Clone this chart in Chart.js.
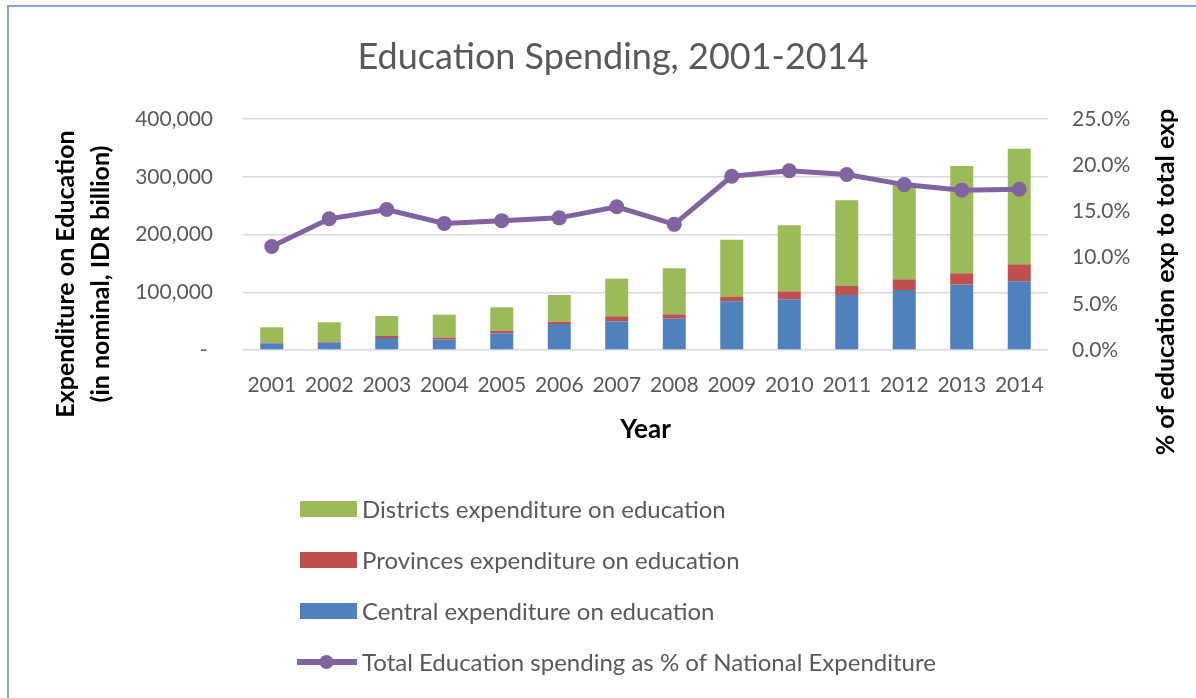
<!DOCTYPE html>
<html>
<head>
<meta charset="utf-8">
<title>Education Spending, 2001-2014</title>
<script src="https://cdn.jsdelivr.net/npm/chart.js@4.4.1/dist/chart.umd.min.js"></script>
<style>
  html, body { margin: 0; padding: 0; background: #ffffff; overflow: hidden; }
  #wrap { position: relative; width: 1196px; height: 698px; }
  #frame {
    position: absolute; left: 7px; top: 5px; width: 1300px; height: 800px;
    border: 2px solid #86a7d8; box-sizing: border-box;
  }
  canvas { position: absolute; left: 0; top: 0; }
</style>
</head>
<body>
<div id="wrap">
  <div id="frame"></div>
  <canvas id="chart" width="1196" height="698"></canvas>
</div>
<script>
// Fiscal years on the category axis
const years = ['2001', '2002', '2003', '2004', '2005', '2006', '2007',
               '2008', '2009', '2010', '2011', '2012', '2013', '2014'];

// Spending on education, nominal IDR billion
const central   = [11600, 12700, 20800, 17900, 28900, 45000, 49700,
                   54200, 84300, 87800, 95200, 103900, 113100, 118900];
const provinces = [1000, 1800, 3400, 3500, 4600, 4000, 8600,
                   7600, 8000, 13800, 15600, 18500, 19700, 29500];
const districts = [26700, 33500, 34700, 39800, 40400, 46200, 65200,
                   79700, 98800, 114300, 148400, 163300, 185800, 200200];

// Education spending as a share of national expenditure, %
const sharePct  = [11.2, 14.2, 15.2, 13.7, 14.0, 14.3, 15.5,
                   13.6, 18.8, 19.4, 19.0, 17.9, 17.3, 17.4];

// Axis ticks
const leftTicks  = [0, 100000, 200000, 300000, 400000];
const rightTicks = [0, 5, 10, 15, 20, 25];

const labels = {
  title: 'Education Spending, 2001-2014',
  xTitle: 'Year',
  leftTitle: ['Expenditure on Education', '(in nominal, IDR billion)'],
  rightTitle: '% of education exp to total exp',
  districts: 'Districts expenditure on education',
  provinces: 'Provinces expenditure on education',
  central: 'Central expenditure on education',
  share: 'Total Education spending as % of National Expenditure'
};

const COLORS = {
  green: '#9bbb59', red: '#c0504d', blue: '#4f81bd', purple: '#8064a2',
  text: '#595959', grid: '#d9d9d9', title: '#000000'
};
const FONT = 'Lato, "Open Sans", sans-serif';

Chart.defaults.font.family = FONT;
Chart.defaults.color = COLORS.text;

// Rotated titles for the two value axes (both read bottom-to-top)
const axisTitles = {
  id: 'axisTitles',
  afterDraw(chart) {
    const ctx = chart.ctx;
    ctx.save();
    ctx.fillStyle = COLORS.title;
    ctx.font = 'bold 25px ' + FONT;
    ctx.textAlign = 'center';
    ctx.textBaseline = 'middle';
    const leftX = [66, 101];
    labels.leftTitle.forEach((line, i) => {
      ctx.save();
      ctx.translate(leftX[i], 274);
      ctx.rotate(-Math.PI / 2);
      ctx.fillText(line, 0, 0);
      ctx.restore();
    });
    ctx.save();
    ctx.translate(1166, 282);
    ctx.rotate(-Math.PI / 2);
    ctx.fillText(labels.rightTitle, 0, 0);
    ctx.restore();
    ctx.restore();
  }
};

// Vertical legend list under the plot
const stackedLegend = {
  id: 'stackedLegend',
  afterDraw(chart) {
    const ctx = chart.ctx;
    const ds = chart.data.datasets;
    const orderIdx = [2, 1, 0, 3];
    const x0 = 300, boxW = 57, boxH = 16, y0 = 509, gap = 51;
    ctx.save();
    ctx.font = '24px ' + FONT;
    ctx.textBaseline = 'middle';
    ctx.textAlign = 'left';
    orderIdx.forEach((di, row) => {
      const d = ds[di];
      const cy = y0 + row * gap;
      if (d.type === 'line') {
        ctx.strokeStyle = d.borderColor;
        ctx.lineWidth = 6;
        ctx.beginPath();
        ctx.moveTo(x0 - 3, cy);
        ctx.lineTo(x0 + boxW, cy);
        ctx.stroke();
        ctx.fillStyle = d.pointBackgroundColor;
        ctx.beginPath();
        ctx.arc(x0 + boxW / 2 - 2, cy, 7, 0, Math.PI * 2);
        ctx.fill();
      } else {
        ctx.fillStyle = d.backgroundColor;
        ctx.fillRect(x0, cy - boxH / 2, boxW, boxH);
      }
      ctx.fillStyle = COLORS.text;
      ctx.fillText(d.label, x0 + boxW + 5, cy + 1);
    });
    ctx.restore();
  }
};

const barCommon = {
  type: 'bar',
  yAxisID: 'y',
  stack: 'edu',
  barPercentage: 0.4,
  categoryPercentage: 1.0,
  borderWidth: 0,
  order: 1
};

new Chart(document.getElementById('chart'), {
  data: {
    labels: years,
    datasets: [
      Object.assign({}, barCommon, { label: labels.central,   data: central,   backgroundColor: COLORS.blue }),
      Object.assign({}, barCommon, { label: labels.provinces, data: provinces, backgroundColor: COLORS.red }),
      Object.assign({}, barCommon, { label: labels.districts, data: districts, backgroundColor: COLORS.green }),
      {
        type: 'line',
        label: labels.share,
        data: sharePct,
        yAxisID: 'y1',
        borderColor: COLORS.purple,
        backgroundColor: COLORS.purple,
        pointBackgroundColor: COLORS.purple,
        pointBorderColor: COLORS.purple,
        borderWidth: 5,
        pointRadius: 7.5,
        pointBorderWidth: 0,
        tension: 0,
        order: 0
      }
    ]
  },
  options: {
    responsive: false,
    animation: false,
    devicePixelRatio: 1,
    layout: { padding: { left: 30, right: 0, top: 0, bottom: 248 } },
    plugins: {
      legend: { display: false },
      tooltip: { enabled: false },
      title: {
        display: true,
        text: labels.title,
        color: COLORS.text,
        font: { size: 36, weight: 'normal', lineHeight: 1.2 },
        padding: { top: 36, bottom: 39.8 }
      }
    },
    scales: {
      x: {
        stacked: true,
        grid: { display: false, drawTicks: false },
        border: { display: false },
        ticks: { color: COLORS.text, font: { size: 21 }, padding: 23, maxRotation: 0, autoSkip: false },
        title: {
          display: true,
          text: labels.xTitle,
          color: COLORS.title,
          font: { size: 26, weight: 'bold', lineHeight: 1.2 },
          padding: { top: 0, bottom: 4.4 }
        },
        afterFit(scale) { scale.height = 100; }
      },
      y: {
        position: 'left',
        stacked: true,
        min: 0,
        max: 400000,
        afterBuildTicks(scale) { scale.ticks = leftTicks.map(v => ({ value: v })); },
        grid: { color: COLORS.grid, lineWidth: 1.5, drawTicks: false },
        border: { display: false },
        ticks: {
          color: COLORS.text,
          font: { size: 21 },
          padding: 30,
          callback: v => v === 0 ? '- ' : v.toLocaleString('en-US')
        },
        afterFit(scale) { scale.width = 213; }
      },
      y1: {
        position: 'right',
        min: 0,
        max: 25,
        afterBuildTicks(scale) { scale.ticks = rightTicks.map(v => ({ value: v })); },
        grid: { display: false, drawTicks: false },
        border: { display: false },
        ticks: {
          color: COLORS.text,
          font: { size: 21 },
          padding: 24,
          callback: v => v.toFixed(1) + '%'
        },
        afterFit(scale) { scale.width = 148; }
      }
    }
  },
  plugins: [axisTitles, stackedLegend]
});
</script>
</body>
</html>
